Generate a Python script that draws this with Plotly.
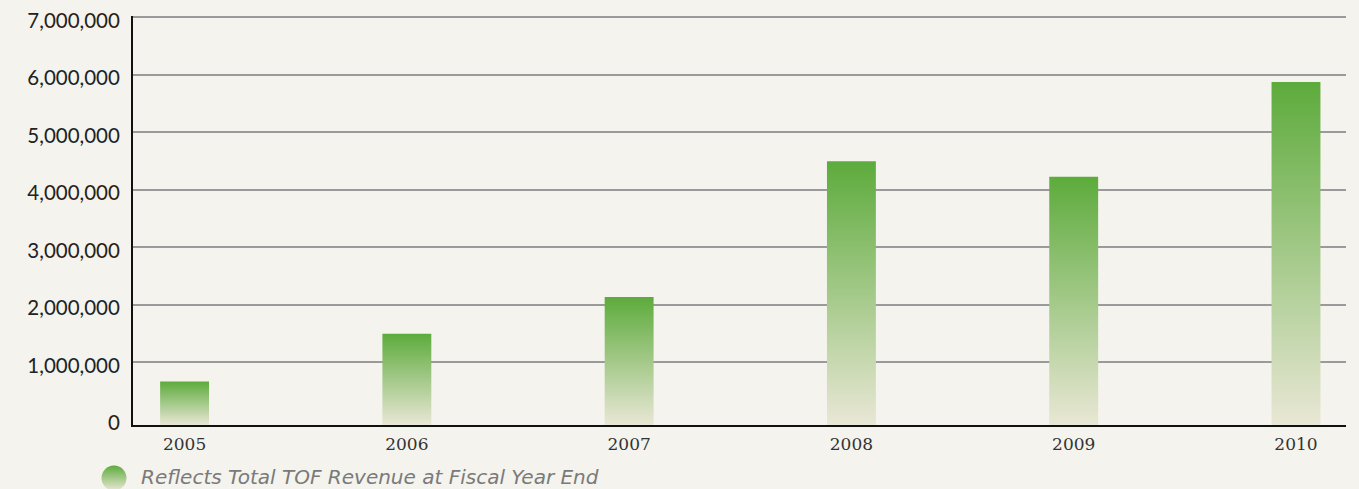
import plotly.graph_objects as go

years = ["2005", "2006", "2007", "2008", "2009", "2010"]
revenue = [670000, 1500000, 2140000, 4500000, 4230000, 5880000]
y_ticks = [0, 1000000, 2000000, 3000000, 4000000, 5000000, 6000000, 7000000]
legend_text = "Reflects Total TOF Revenue at Fiscal Year End"

Y_MIN = -87000
Y_MAX = 7030000
BAR_W = 0.22
GREEN = "#5dab3c"
PALE = "#e9e7d5"
BG = "#f4f3ed"

fig = go.Figure()
for i, v in enumerate(revenue):
    x0, x1 = i - BAR_W / 2, i + BAR_W / 2
    fig.add_trace(go.Scatter(
        x=[x0, x0, x1, x1, x0], y=[Y_MIN, v, v, Y_MIN, Y_MIN],
        mode="lines", fill="toself", line=dict(width=0),
        fillgradient=dict(type="vertical", colorscale=[[0, PALE], [1, GREEN]]),
        hoverinfo="skip", showlegend=False,
    ))

# legend marker
fig.add_trace(go.Scatter(
    x=[114], y=[11], xaxis="x2", yaxis="y2", mode="markers",
    marker=dict(size=25, color=GREEN, gradient=dict(type="vertical", color=PALE)),
    cliponaxis=False, showlegend=False, hoverinfo="skip",
))

W, H = 1359, 489
PX_PER_M = 57.5
top_px = 420 - (Y_MAX / 1e6) * PX_PER_M
fig.update_layout(
    width=W, height=H,
    margin=dict(l=0, r=0, t=0, b=0, autoexpand=False),
    paper_bgcolor=BG, plot_bgcolor=BG,
    showlegend=False,
    xaxis=dict(
        domain=[133 / W, 1346 / W], range=[-0.232, 5.225], automargin=False,
        tickvals=list(range(len(years))), ticktext=years,
        showgrid=False, zeroline=False, showline=True, linecolor="#111", linewidth=2,
        ticks="", ticklabelstandoff=3,
        tickfont=dict(family="DejaVu Serif", size=17, color="#333"),
    ),
    yaxis=dict(
        domain=[(H - 425) / H, (H - top_px) / H], range=[Y_MIN, Y_MAX], automargin=False,
        tickvals=y_ticks, tickformat=",d",
        showgrid=False, zeroline=False, showline=True, linecolor="#111", linewidth=2,
        ticks="", ticklabelstandoff=7, ticklabelshift=3,
        tickfont=dict(family="Lato", size=20.5, color="#222"),
        minor=dict(tickvals=y_ticks[1:], showgrid=True, gridcolor="#9a9a9a", gridwidth=2, ticks=""),
    ),
    xaxis2=dict(domain=[0, 1], range=[0, W], visible=False, anchor="y2", automargin=False),
    yaxis2=dict(domain=[0, 0.13], range=[0, 0.13 * H], visible=False, anchor="x2", automargin=False),
    annotations=[dict(
        text=legend_text, xref="paper", yref="paper", x=139 / W, y=(H - 477) / H,
        xanchor="left", yanchor="middle", showarrow=False,
        font=dict(family="DejaVu Sans", size=20, color="#7a7a7a", style="italic"),
    )],
)

fig.write_html(
    "out.html",
    config={"displayModeBar": False},
    post_script="document.body.style.margin='0';document.body.style.overflow='hidden';",
)
